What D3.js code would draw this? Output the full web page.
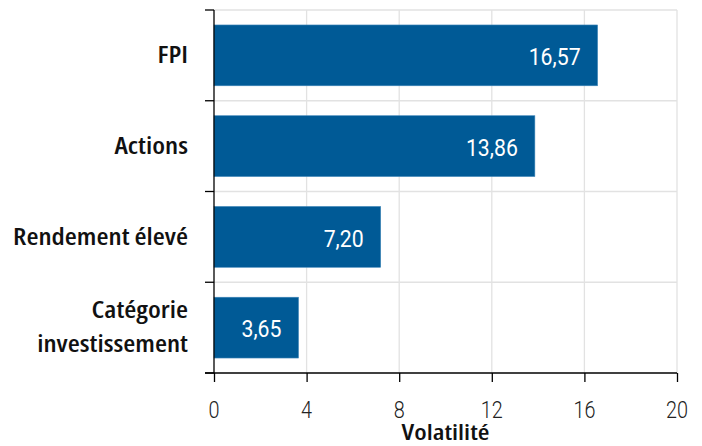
<!DOCTYPE html>
<html>
<head>
<meta charset="utf-8">
<script src="https://cdn.jsdelivr.net/npm/d3@7"></script>
<style>
  body { margin: 0; background: #fff; }
  text { font-family: "DejaVu Sans", sans-serif; }
</style>
</head>
<body>
<div id="chart-area"></div>
<script>
// data
const categories = ["FPI", "Actions", "Rendement élevé", "Catégorie\ninvestissement"]
const values = [16.57, 13.86, 7.20, 3.65]
const xTicks = [0, 4, 8, 12, 16, 20]
const xTitle = "Volatilité"

const width = 702, height = 446
const margin = { top: 10, right: 25, bottom: 73, left: 214 }

const svg = d3.select("#chart-area").append("svg")
    .attr("width", width)
    .attr("height", height)

// text styles; the reference uses a condensed face, so each style gets a horizontal squeeze
const styles = {
    cat:   { family: "Open Sans", stretch: "condensed", size: 24, weight: 600, fill: "#111", sample: "Rendement élevé", w: 175 },
    value: { family: "Roboto", stretch: "normal", size: 24, weight: 400, fill: "#fff", sample: "16,57", w: 52 },
    tick:  { family: "Roboto", stretch: "normal", size: 24, weight: 300, fill: "#222", sample: "12", w: 22 },
    title: { family: "Open Sans", stretch: "condensed", size: 22, weight: 600, fill: "#111", sample: "Volatilité", w: 88 }
}

function applyStyle(sel, s) {
    sel.style("font-family", s.family)
        .style("font-stretch", s.stretch)
        .attr("font-size", s.size)
        .attr("font-weight", s.weight)
        .attr("fill", s.fill)
}
Object.values(styles).forEach(s => {
    const t = svg.append("text").call(applyStyle, s).text(s.sample)
    s.sx = s.w / t.node().getComputedTextLength()
    t.remove()
})

// draws a squeezed text anchored at (px, py)
function label(parent, s, px, py, str, anchor) {
    const t = parent.append("text")
        .attr("transform", `translate(${px},${py}) scale(${s.sx},1)`)
        .attr("text-anchor", anchor)
        .call(applyStyle, s)
    const lines = str.split("\n")
    lines.forEach((l, i) => {
        t.append("tspan")
            .attr("x", 0)
            .attr("y", (i - (lines.length - 1) / 2) * 34)
            .attr("dy", "0.36em")
            .text(l)
    })
    return t
}

const x = d3.scaleLinear()
    .domain([0, 20])
    .range([margin.left, width - margin.right])

const y = d3.scaleBand()
    .domain(categories)
    .range([margin.top, height - margin.bottom])
    .paddingInner(0.33)
    .paddingOuter(0.165)

const step = y.step()
const bandEdges = d3.range(categories.length + 1).map(i => margin.top + i * step)

// grid
svg.append("g").selectAll("line")
    .data(xTicks.slice(1))
    .join("line")
    .attr("x1", d => x(d)).attr("x2", d => x(d))
    .attr("y1", margin.top).attr("y2", height - margin.bottom)
    .attr("stroke", "#e2e2e2").attr("stroke-width", 1.3)

svg.append("g").selectAll("line")
    .data(bandEdges.slice(0, -1))
    .join("line")
    .attr("x1", x(0)).attr("x2", x(20))
    .attr("y1", d => d).attr("y2", d => d)
    .attr("stroke", "#e2e2e2").attr("stroke-width", 1.3)

// bars
svg.append("g").selectAll("rect")
    .data(values)
    .join("rect")
    .attr("x", x(0))
    .attr("y", (d, i) => y(categories[i]))
    .attr("width", d => x(d) - x(0))
    .attr("height", y.bandwidth())
    .attr("fill", "#005a96")
    .attr("stroke", "#3f86b8")
    .attr("stroke-width", 0.6)

// value labels
const valG = svg.append("g")
values.forEach((v, i) => {
    label(valG, styles.value, x(v) - 17, y(categories[i]) + y.bandwidth() / 2 + 1,
        v.toFixed(2).replace(".", ","), "end")
})

// y axis
const yAxis = svg.append("g")
yAxis.append("line")
    .attr("x1", x(0)).attr("x2", x(0))
    .attr("y1", margin.top).attr("y2", height - margin.bottom)
    .attr("stroke", "#000").attr("stroke-width", 1.3)
yAxis.selectAll("line.tick")
    .data(bandEdges)
    .join("line")
    .attr("class", "tick")
    .attr("x1", x(0) - 9).attr("x2", x(0))
    .attr("y1", d => d).attr("y2", d => d)
    .attr("stroke", "#000").attr("stroke-width", 1.3)
categories.forEach(c => {
    label(yAxis, styles.cat, x(0) - 26, y(c) + y.bandwidth() / 2 - 1, c, "end")
})

// x axis
const xAxis = svg.append("g")
    .attr("transform", `translate(0,${height - margin.bottom})`)
    .call(d3.axisBottom(x).tickValues(xTicks).tickSize(9).tickFormat(""))
xAxis.select(".domain").remove()
xAxis.selectAll(".tick line").attr("stroke-width", 1.3)
xAxis.append("line")
    .attr("x1", x(0) - 9).attr("x2", x(20))
    .attr("stroke", "#000").attr("stroke-width", 1.3)
xTicks.forEach(t => {
    label(xAxis, styles.tick, x(t), 36, String(t), "middle")
})

label(svg, styles.title, (x(0) + x(20)) / 2, 432, xTitle, "middle")
</script>
</body>
</html>
